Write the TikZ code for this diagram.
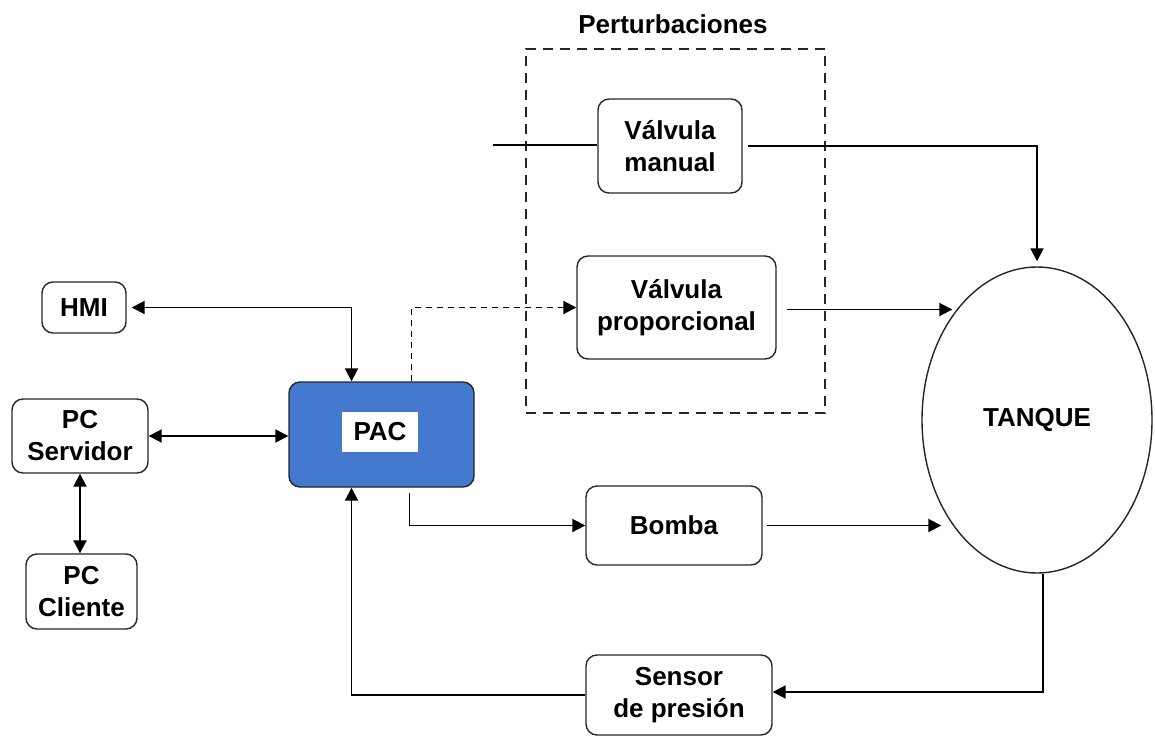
\documentclass[tikz,border=0pt]{standalone}
\usepackage{fontspec}
\setmainfont{Liberation Sans}
\usetikzlibrary{shapes.geometric, arrows.meta, positioning}
\usepackage{xcolor}
\definecolor{pacblue}{RGB}{68,121,207}

\begin{document}
\begin{tikzpicture}[
        x=1pt, y=-1pt,
        font=\fontsize{26}{32}\selectfont\bfseries,
        % This defines the style of our boxes
        box/.style={rectangle, draw=black!85, line width=1.4pt, fill=white, rounded corners=11pt, align=center, inner sep=0pt},
        pacbox/.style={box, fill=pacblue, minimum width=185, minimum height=105},
        tank/.style={ellipse, draw=black!85, line width=1.4pt, minimum width=230, minimum height=306, inner sep=0pt},
        group/.style={rectangle, draw=black!85, line width=1.4pt, dash pattern=on 10pt off 7pt},
        % This defines the style of our arrows
        line/.style={line width=1.9pt, draw=black},
        arrow/.style={line, -{Triangle[length=13pt,width=13pt]}},
        dualarrow/.style={line, {Triangle[length=13pt,width=13pt]}-{Triangle[length=13pt,width=13pt]}},
        dasharrow/.style={arrow, dash pattern=on 6pt off 5pt}
    ]
    \useasboundingbox (0,0) rectangle (1155,736);

    % --- THE BOXES ---
    \node (hmi) [box, minimum width=84, minimum height=51] at (84,307.5) {HMI};
    \node (servidor) [box, minimum width=136, minimum height=74] at (80,436) {PC\\Servidor};
    \node (cliente) [box, minimum width=111, minimum height=75] at (81.5,591.5) {PC\\Cliente};

    \node (pac) [pacbox] at (381.5,434.5) {};
    \node (paclabel) [fill=white, minimum width=76, minimum height=40, inner sep=0pt] at (380,432) {PAC};

    \node (grupo) [group, minimum width=299, minimum height=364] at (675.5,231) {};
    \node (titulo) at (673,24) {Perturbaciones};
    \node (manual) [box, minimum width=144, minimum height=94] at (670,146) {Válvula\\manual};
    \node (prop) [box, minimum width=199, minimum height=103] at (676.5,307.5) {Válvula\\proporcional};

    \node (bomba) [box, minimum width=176, minimum height=79] at (674,525.5) {Bomba};
    \node (sensor) [box, minimum width=186, minimum height=80] at (679,695) {Sensor\\de presión};

    \node (tanque) [tank] at (1037,420) {TANQUE};

    \coordinate (entrada) at (493,145);

    % --- THE ARROWS ---
    \draw [dualarrow, shorten <=5pt] (hmi.east) -| ([xshift=-30]pac.north);
    \draw [dualarrow] (servidor.east) -- (servidor.east -| pac.west);
    \draw [dualarrow] (servidor.south) -- (servidor.south |- cliente.north);
    \draw [arrow] (sensor.west) -| ([xshift=-30]pac.south);
    \draw [arrow, shorten <=5pt] ([xshift=28]pac.south) |- (bomba.west);
    \draw [dasharrow] ([xshift=30]pac.north) |- (prop.west);
    \draw [line] (entrada) -- (entrada -| manual.west);
    \draw [arrow, shorten <=5pt, shorten >=5pt] (manual.east) -| (tanque.north);
    \draw [arrow, shorten <=10pt] ([yshift=-2]prop.east) -- ([xshift=31,yshift=-2]prop.east -| tanque.west);
    \draw [arrow, shorten <=4pt] (bomba.east) -- ([xshift=20]bomba.east -| tanque.west);
    \draw [arrow] ([xshift=6]tanque.south) |- ([yshift=3]sensor.east);

\end{tikzpicture}
\end{document}
